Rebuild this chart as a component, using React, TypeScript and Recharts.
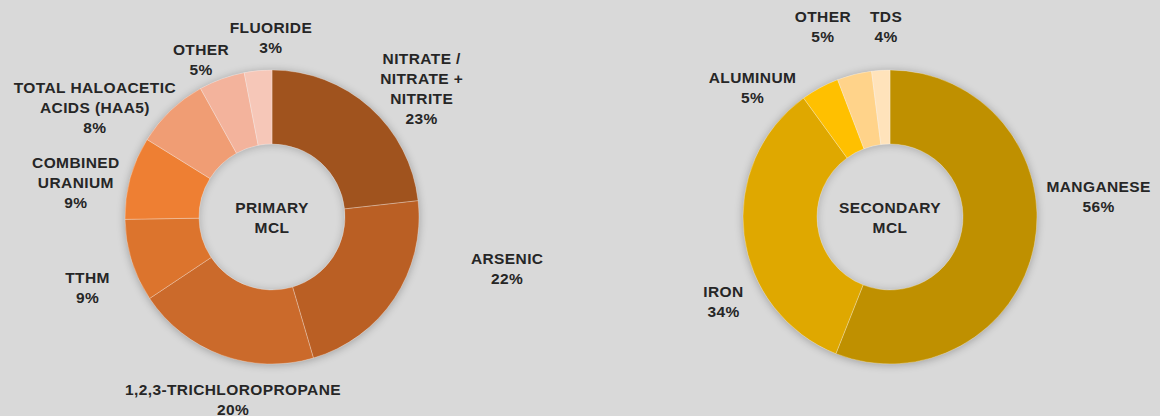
import { PieChart, Pie, Cell, Label } from 'recharts';

// Primary MCL breakdown (clockwise from 12 o'clock)
const primaryNames = [
  'NITRATE /\nNITRATE +\nNITRITE',
  'ARSENIC',
  '1,2,3-TRICHLOROPROPANE',
  'TTHM',
  'COMBINED\nURANIUM',
  'TOTAL HALOACETIC\nACIDS (HAA5)',
  'OTHER',
  'FLUORIDE',
];
const primaryValues = [23, 22, 20, 9, 9, 8, 5, 3];
const primaryPct = ['23%', '22%', '20%', '9%', '9%', '8%', '5%', '3%'];

// Secondary MCL breakdown (slice sizes read from the ring, labels as printed)
const secondaryNames = ['MANGANESE', 'IRON', 'ALUMINUM', 'OTHER', 'TDS'];
const secondaryValues = [56, 34, 4.2, 3.8, 2];
const secondaryPct = ['56%', '34%', '5%', '5%', '4%'];

const PRIMARY_COLORS = ['#A0531E', '#BA5F24', '#CB6A2B', '#DC742D', '#EE7F33', '#F09D74', '#F3B39C', '#F6C7B8'];
const SECONDARY_COLORS = ['#BF9000', '#DFA800', '#FFC000', '#FFD38A', '#FFE3BB'];

// label nudges from the default radial spot (Excel "best fit" placement)
const PRIMARY_NUDGE = [[23, 13], [77, -54], [26, 3], [-3, 14], [-13, 16], [-46, 28], [-6, 21], [17, 9]];
const SECONDARY_NUDGE = [[22, -57], [22, 60], [-47, 37], [-21, -7], [8, -1]];

const BG = '#D9D9D9';
const FONT = "'Liberation Sans', Arial, sans-serif";
const FONT_SIZE = 15.5;
const TEXT = '#262626';
const RAD = Math.PI / 180;
const CY = 217;
const INNER = 73;
const OUTER = 147;

const primaryData = primaryNames.map((name, i) => ({ name, value: primaryValues[i] }));
const secondaryData = secondaryNames.map((name, i) => ({ name, value: secondaryValues[i] }));

function makeLabel(names: string[], pcts: string[], nudges: number[][]) {
  return (props: any) => {
    const { cx, cy, midAngle, index } = props;
    const r = 190;
    const x = cx + r * Math.cos(-midAngle * RAD) + nudges[index][0];
    const y = cy + r * Math.sin(-midAngle * RAD) + nudges[index][1];
    const lines = [...names[index].split('\n'), pcts[index]];
    const lh = 20;
    const y0 = y - ((lines.length - 1) * lh) / 2;
    return (
      <text
        key={`lbl-${index}`}
        x={x}
        y={y0}
        textAnchor="middle"
        dominantBaseline="central"
        fill={TEXT}
        fontFamily={FONT}
        fontWeight="bold"
        fontSize={FONT_SIZE}
        letterSpacing={0.4}
      >
        {lines.map((l, i) => (
          <tspan key={i} x={x} y={y0 + i * lh}>{l}</tspan>
        ))}
      </text>
    );
  };
}

function centerText(lines: string[], cx: number, cy: number) {
  return () => (
    <text
      x={cx}
      y={cy}
      textAnchor="middle"
      dominantBaseline="central"
      fill={TEXT}
      fontFamily={FONT}
      fontWeight="bold"
      fontSize={FONT_SIZE}
      letterSpacing={0.4}
    >
      <tspan x={cx} y={cy - 10}>{lines[0]}</tspan>
      <tspan x={cx} y={cy + 10}>{lines[1]}</tspan>
    </text>
  );
}

function Donut({ data, colors, names, pcts, nudges, cx, title }: any) {
  const circle = (r: number, shadow: string) => (
    <div
      style={{
        position: 'absolute',
        left: cx - r,
        top: CY - r,
        width: r * 2,
        height: r * 2,
        borderRadius: '50%',
        boxShadow: shadow,
      }}
    />
  );
  return (
    <div style={{ position: 'relative', width: 580, height: 416 }}>
      {/* soft shadow around the ring and into the hole */}
      {circle(OUTER, '0px 1px 9px rgba(0,0,0,0.28)')}
      {circle(INNER, 'inset 0px 1px 9px rgba(0,0,0,0.22)')}
      <div style={{ position: 'absolute', left: 0, top: 0 }}>
        <PieChart width={580} height={416} margin={{ top: 0, right: 0, bottom: 0, left: 0 }}>
          <Pie
            data={data}
            dataKey="value"
            nameKey="name"
            cx={cx}
            cy={CY}
            innerRadius={INNER}
            outerRadius={OUTER}
            startAngle={90}
            endAngle={-270}
            stroke="rgba(255,255,255,0.35)"
            strokeWidth={0.8}
            labelLine={false}
            label={makeLabel(names, pcts, nudges)}
            isAnimationActive={false}
          >
            {data.map((_: any, i: number) => (
              <Cell key={`c-${i}`} fill={colors[i]} />
            ))}
            <Label position="center" content={centerText(title, cx, CY)} />
          </Pie>
        </PieChart>
      </div>
    </div>
  );
}

export default function App() {
  return (
    <div
      style={{
        position: 'absolute',
        left: 0,
        top: 0,
        width: 1160,
        height: 416,
        background: BG,
        display: 'flex',
        overflow: 'hidden',
      }}
    >
      <Donut
        data={primaryData}
        colors={PRIMARY_COLORS}
        names={primaryNames}
        pcts={primaryPct}
        nudges={PRIMARY_NUDGE}
        cx={272}
        title={['PRIMARY', 'MCL']}
      />
      <Donut
        data={secondaryData}
        colors={SECONDARY_COLORS}
        names={secondaryNames}
        pcts={secondaryPct}
        nudges={SECONDARY_NUDGE}
        cx={310}
        title={['SECONDARY', 'MCL']}
      />
    </div>
  );
}
